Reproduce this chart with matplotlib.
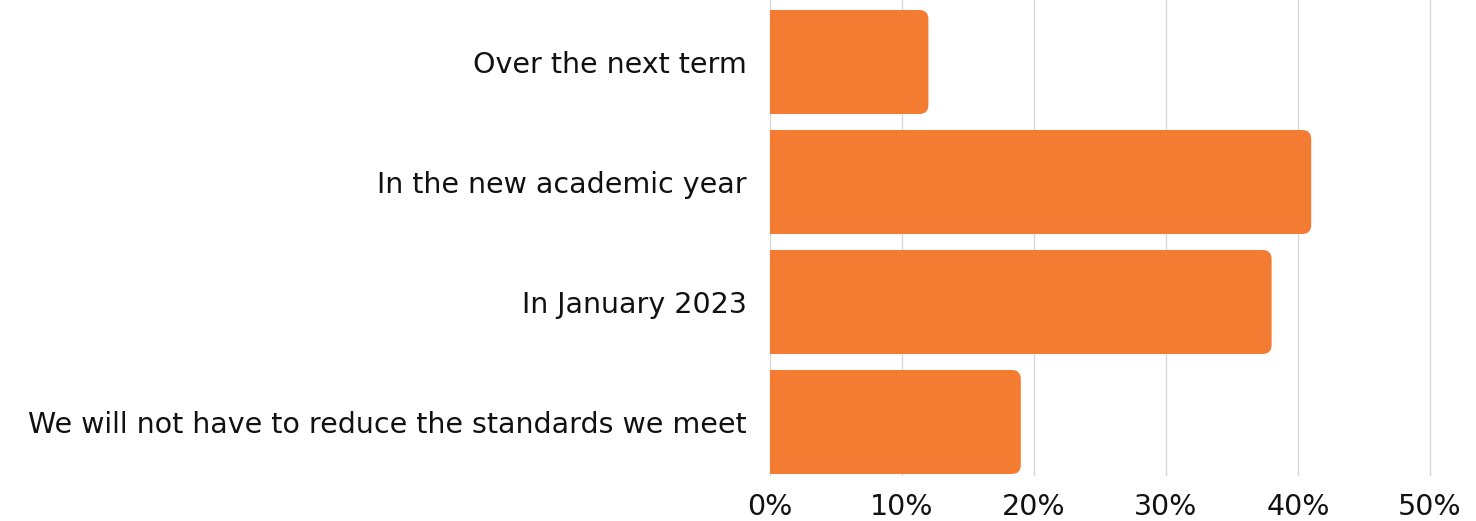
import matplotlib
matplotlib.use("Agg")
import matplotlib.pyplot as plt
from matplotlib.patches import FancyBboxPatch
from matplotlib.ticker import FuncFormatter

categories = ["Over the next term", "In the new academic year", "In January 2023",
              "We will not have to reduce the standards we meet"]
values = [12, 41, 38, 19]
xticks = [0, 10, 20, 30, 40, 50]

W, H = 1476, 521
fig = plt.figure(figsize=(W / 100, H / 100), dpi=100)
left, right = 770 / W, 1430 / W
top, bottom = 1 - 0 / H, 1 - 475 / H
ax = fig.add_axes([left, bottom, right - left, top - bottom])

color = "#F47B32"
bh = 104 / 120
ypos = list(range(len(categories)))
ax.set_xlim(0, 50)
ax.set_ylim(3 + 53 / 120, -62 / 120)

xpp = 50 / 660
ypp = 1 / 120
r_px = 9
for y, v in zip(ypos, values):
    ax.barh(y, v / 2, height=bh, color=color, zorder=2)
    p = FancyBboxPatch((0, y - bh / 2), v, bh,
                       boxstyle=f"round,pad=0,rounding_size={r_px * xpp}",
                       mutation_aspect=ypp / xpp, facecolor=color,
                       edgecolor="none", zorder=2)
    ax.add_patch(p)

ax.set_yticks(ypos)
ax.set_yticklabels(categories)
ax.set_xticks(xticks)
ax.xaxis.set_major_formatter(FuncFormatter(lambda x, _: f"{x:.0f}%"))
ax.grid(axis="x", color="#d9d9d9", linewidth=1, zorder=0)
ax.set_axisbelow(True)
for gl in ax.get_xgridlines():
    gl.set_clip_on(False)
for s in ax.spines.values():
    s.set_visible(False)
ax.tick_params(axis="both", length=0, labelsize=20.5, colors="#111111")
ax.tick_params(axis="y", pad=17)
ax.tick_params(axis="x", pad=13)
for lab in ax.get_xticklabels() + ax.get_yticklabels():
    lab.set_family("DejaVu Sans")

fig.savefig("out.png", dpi=100)
